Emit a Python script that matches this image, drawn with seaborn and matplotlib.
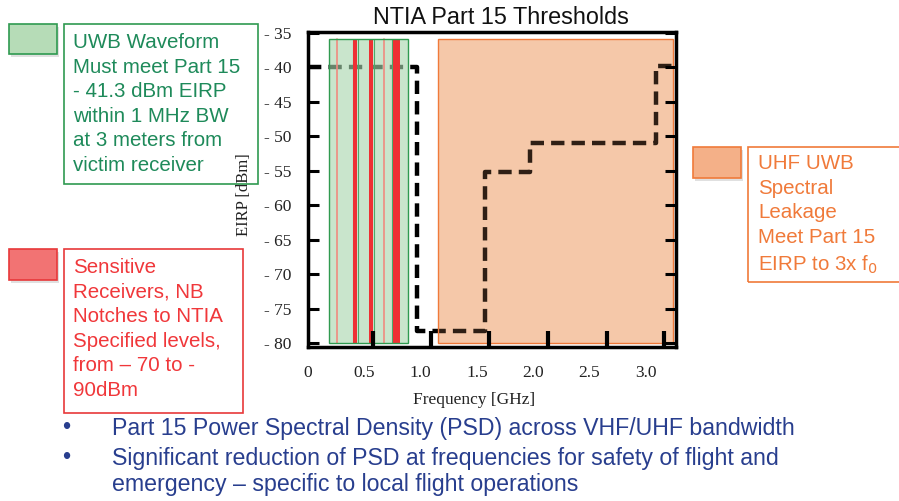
import matplotlib
matplotlib.use("Agg")
import matplotlib.pyplot as plt
import seaborn as sns
import pandas as pd
import numpy as np
from matplotlib.patches import Rectangle

# ---------------- data ----------------
step_freq = [0.0, 0.97, 1.57, 1.97, 3.09, 3.27]          # GHz, step edges
step_eirp = [-40.0, -78.3, -55.2, -51.0, -39.8, -39.8]    # dBm
uwb_band = [0.19, 0.89]                                   # green band (GHz)
uwb_dividers = [0.40, 0.44, 0.585, 0.75]                  # green sub-band edges
notch_start = [0.40, 0.54, 0.755]                         # strong notches (GHz)
notch_end = [0.435, 0.577, 0.815]
weak_notch = [0.257, 0.674]                               # faint notch lines
leak_band = [1.155, 3.245]                                # orange band (GHz)
band_top = -35.9
band_bottom = -80.0
x_ticks = [0, 0.5, 1.0, 1.5, 2.0, 2.5, 3.0]
x_tick_labels = ["0", "0.5", "1.0", "1.5", "2.0", "2.5", "3.0"]
x_tick_marks = [0.577, 1.09, 1.61, 2.13, 2.66, 3.165]
y_ticks = [-35, -40, -45, -50, -55, -60, -65, -70, -75, -80]
y_tick_labels = ["- 35", "- 40", "- 45", "- 50", "- 55", "- 60", "- 65", "- 70", "- 75", "- 80"]

title = "NTIA Part 15 Thresholds"
green_text = "UWB Waveform\nMust meet Part 15\n- 41.3 dBm EIRP\nwithin 1 MHz BW\nat 3 meters from\nvictim receiver"
red_text = "Sensitive\nReceivers, NB\nNotches to NTIA\nSpecified levels,\nfrom \u2013 70 to -\n90dBm"
orange_text = "UHF UWB\nSpectral\nLeakage\nMeet Part 15\nEIRP to 3x f$_0$"
bullet_lines = [
    "Part 15 Power Spectral Density (PSD) across VHF/UHF bandwidth",
    "Significant reduction of PSD at frequencies for safety of flight and",
    "emergency \u2013 specific to local flight operations",
]

# ---------------- figure ----------------
sns.set_theme(style="white")
plt.rcParams["font.family"] = ["Liberation Sans", "DejaVu Sans"]

W, H = 899, 501
fig = plt.figure(figsize=(W / 100, H / 100), dpi=100)
L, R, T, B = 308, 676, 32, 347
ax = fig.add_axes([L / W, 1 - B / H, (R - L) / W, (B - T) / H])

df = pd.DataFrame({"freq": step_freq, "eirp": step_eirp})
sns.lineplot(data=df, x="freq", y="eirp", ax=ax, color="black", linewidth=3.2,
             drawstyle="steps-post", zorder=3, estimator=None, sort=False)
ax.lines[0].set_dashes([3.0, 1.6])

gh = band_top - band_bottom
# orange leakage band: opaque base below the line, thin tint above it
ax.add_patch(Rectangle((leak_band[0], band_bottom), leak_band[1] - leak_band[0], gh,
                       facecolor="#f7d3b9", edgecolor="none", zorder=2))
ax.add_patch(Rectangle((leak_band[0], band_bottom), leak_band[1] - leak_band[0], gh,
                       facecolor="#eea06a", alpha=0.2, edgecolor="none", zorder=4))
ax.add_patch(Rectangle((leak_band[0], band_bottom), leak_band[1] - leak_band[0], gh,
                       facecolor="none", edgecolor="#f07a3a", linewidth=1.0, zorder=5))

# green UWB band
ax.add_patch(Rectangle((uwb_band[0], band_bottom), uwb_band[1] - uwb_band[0], gh,
                       facecolor="#a8d6ae", alpha=0.62, edgecolor="none", zorder=4))
ax.add_patch(Rectangle((uwb_band[0], band_bottom), uwb_band[1] - uwb_band[0], gh,
                       facecolor="none", edgecolor="#2f9a50", linewidth=1.0, zorder=6))
for xd in uwb_dividers:
    ax.plot([xd, xd], [band_bottom, band_top], color="#4caa6a", linewidth=0.8, zorder=5)
for xw in weak_notch:
    ax.plot([xw, xw], [band_bottom, band_top], color="#f08a80", linewidth=1.2, zorder=5)
for s, e in zip(notch_start, notch_end):
    ax.add_patch(Rectangle((s, band_bottom), e - s, gh, facecolor="#ee3033",
                           edgecolor="none", zorder=5))

ax.set_xlim(0, 3.27)
ax.set_ylim(-80.55, -34.85)

# bottom tick marks (offset from the labels, as in the source figure)
y0 = ax.get_ylim()[0]
for xm in x_tick_marks:
    ax.plot([xm, xm], [y0, y0 + 2.3], color="black", linewidth=3.0, zorder=10,
            solid_capstyle="butt", clip_on=False)

ax.set_axisbelow(False)
ax.xaxis.set_zorder(8)
ax.yaxis.set_zorder(8)
for sp in ax.spines.values():
    sp.set_visible(True)
    sp.set_color("black")
    sp.set_linewidth(2.5)
    sp.set_zorder(9)

serif = ["Liberation Serif", "DejaVu Serif"]
ax.set_xticks(x_ticks)
ax.set_xticklabels(x_tick_labels, fontfamily=serif, fontsize=12.5, color="#222222")
ax.tick_params(axis="x", which="major", length=0, pad=13)
ax.set_yticks(y_ticks)
ax.set_yticklabels(y_tick_labels, fontfamily=serif, fontsize=12.5, color="#222222")
ax.tick_params(axis="y", which="major", direction="in", length=8, width=2.2,
               left=True, right=True, pad=12, color="black")
ax.set_xlabel("Frequency [GHz]", fontfamily=serif, fontsize=12.5, color="#222222")
ax.set_ylabel("EIRP [dBm]", fontfamily=serif, fontsize=12, color="#222222")
ax.xaxis.set_label_coords((474 - L) / (R - L), (B - 392) / (B - T))
ax.yaxis.set_label_coords((252 - L) / (R - L), 1 - (195 - T) / (B - T))
ax.grid(False)

fig.text(501 / W, 1 - 18 / H, title, ha="center", va="center", fontsize=16.8,
         color="#111111")


def px_rect(x0, y0, x1, y1, fc, ec, lw=1.2, shadow=False):
    if shadow:
        fig.patches.append(Rectangle((x0 / W + 2 / W, 1 - y1 / H - 3 / H), (x1 - x0) / W,
                                     (y1 - y0) / H, transform=fig.transFigure,
                                     facecolor="#cccccc", edgecolor="none", alpha=0.6))
    fig.patches.append(Rectangle((x0 / W, 1 - y1 / H), (x1 - x0) / W, (y1 - y0) / H,
                                 transform=fig.transFigure, facecolor=fc, edgecolor=ec,
                                 linewidth=lw))


LS = 1.37
# green legend box
px_rect(9, 24, 57, 54, "#b6dcb7", "#2f9a50", shadow=True)
px_rect(64, 24, 258, 184, "none", "#2f9a50")
fig.text(73 / W, 1 - 33 / H, green_text, ha="left", va="top", fontsize=14.8,
         color="#1e8a5a", linespacing=LS)

# red legend box
px_rect(9, 249, 57, 280, "#f27373", "#e8383a", shadow=True)
px_rect(64, 249, 243, 413, "none", "#e8383a")
fig.text(73 / W, 1 - 258 / H, red_text, ha="left", va="top", fontsize=14.8,
         color="#f0373a", linespacing=LS)

# orange legend box
px_rect(693, 147, 741, 178, "#f4b088", "#f07a3a", shadow=True)
px_rect(748, 147, 905, 282, "none", "#f07a3a")
fig.text(758 / W, 1 - 154 / H, orange_text, ha="left", va="top", fontsize=14.8,
         color="#f07a3a", linespacing=LS)

# bullets
blue = "#283e8e"
for yb in (428, 458):
    fig.text(66 / W, 1 - yb / H, "\u2022", ha="center", va="center", fontsize=17,
             color=blue)
for yl, line in zip((428, 458, 485), bullet_lines):
    fig.text(112 / W, 1 - yl / H, line, ha="left", va="center", fontsize=16.7,
             color=blue)

fig.savefig("out.png", dpi=100)
